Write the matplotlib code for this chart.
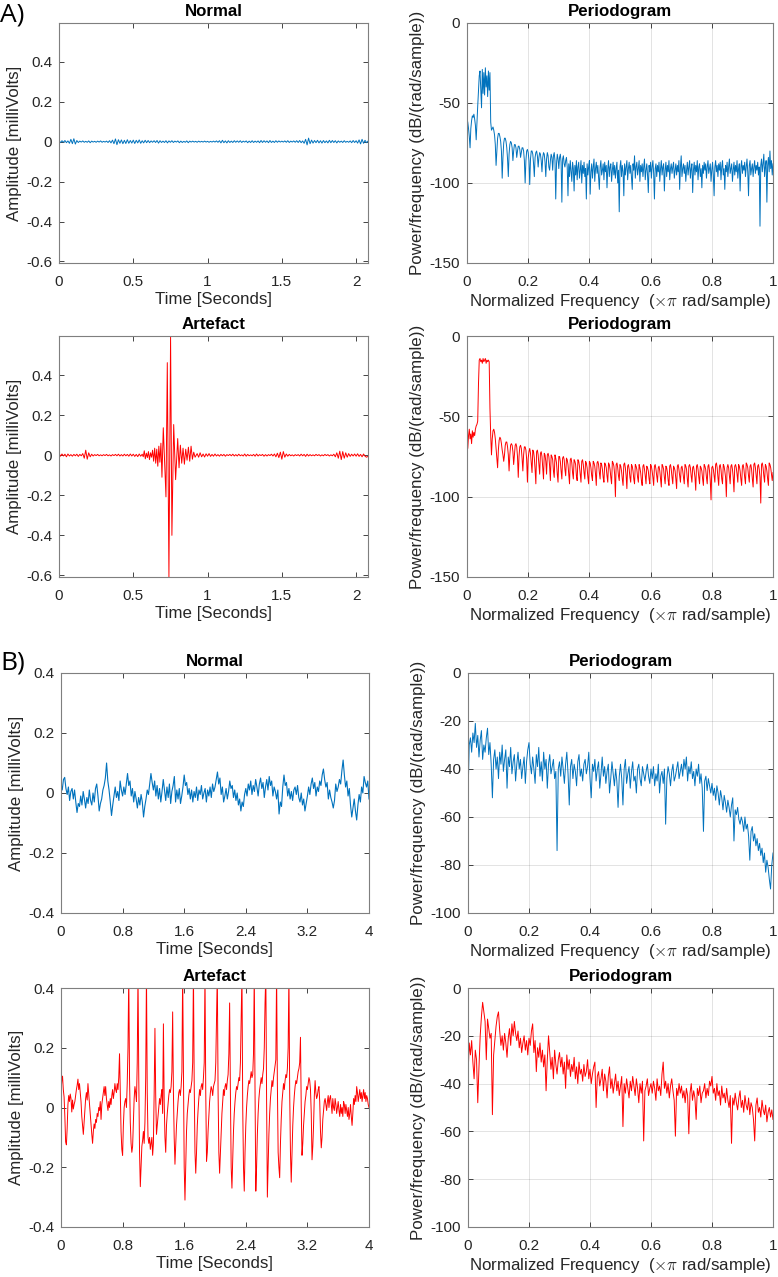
import numpy as np
import matplotlib
matplotlib.use('Agg')
import matplotlib.pyplot as plt
from matplotlib.ticker import FormatStrFormatter

plt.rcParams['font.family'] = ['Liberation Sans', 'DejaVu Sans']
plt.rcParams['mathtext.fontset'] = 'cm'

BLUE = '#0072BD'
RED = '#FF0000'
AX_COL = '#262626'

# ---------------- A) time signals, values in microvolts ----------------
A_DT = 0.01
a_norm_uv = [3, -4, 5, -3, 6, -5, 4, -8, 12, -10,
             15, -12, 6, -4, 3, -2, 4, -3, 2, -3,
             4, -5, 3, -2, 2, -3, 3, -2, 4, -3,
             2, -2, 3, -4, 5, -6, 8, -10, 14, -15,
             10, -8, 9, -10, 7, -9, 10, -8, 6, -7,
             8, -9, 7, -6, 9, -8, 5, -6, 7, -5,
             6, -5, 4, -3, 5, -4, 6, -7, 5, -4,
             3, -4, 5, -6, 4, -3, 5, -4, 3, -2,
             4, -5, 3, -4, 2, -3, 4, -5, 3, -2,
             3, -2, 2, -3, 3, -2, 2, -2, 3, -2,
             2, -3, 2, -2, 3, -2, 4, -3, 5, -6,
             7, -5, 4, -6, 5, -4, 3, -4, 5, -3,
             4, -3, 5, -4, 3, -2, 4, -5, 3, -4,
             5, -4, 3, -3, 4, -5, 6, -4, 5, -3,
             4, -5, 6, -4, 3, -4, 5, -3, 4, -2,
             3, -2, 4, -3, 5, -4, 3, -2, 4, -3,
             5, -4, 6, -5, 4, -8, 12, -16, 18, -10,
             8, -7, 6, -5, 7, -6, 5, -7, 6, -5,
             4, -6, 7, -5, 6, -4, 5, -6, 4, -3,
             3, -4, 5, -3, 2, -3, 4, -5, 6, -4,
             5, -7, 9, -11, 12, -8, 7, -5, 3]

# artefact: baseline before the burst (from 0 s), burst, baseline after (from 0.93 s)
a_art_pre_uv = [10, -5, 6, -4, 5, -8, 6, -4, 3, -5,
                4, -3, 5, -6, 4, -3, 8, -15, 25, -20,
                12, -8, 5, -4, 3, -2, 4, -3, 2, -3,
                3, -2, 4, -3, 2, -4, 3, -2, 4, -3,
                5, -4, 3, -4, 5, -3, 4, -5, 6, -4,
                5, -6, 4, -7, 6, -5]
a_art_burst_t = [0.560, 0.567, 0.574, 0.581, 0.588, 0.595, 0.602, 0.609, 0.616, 0.623,
                 0.630, 0.637, 0.644, 0.651, 0.658, 0.665, 0.672, 0.679, 0.686, 0.693,
                 0.702, 0.711, 0.720, 0.729, 0.740, 0.751, 0.760, 0.772, 0.785, 0.799,
                 0.808, 0.817, 0.826, 0.835, 0.844, 0.853, 0.862, 0.871, 0.880, 0.889,
                 0.898, 0.907, 0.916]
a_art_burst_uv = [5, -8, 22, -18, 10, -12, 18, -22, 12, -10,
                  25, -30, 35, -40, 30, -55, 45, -35, 60, -110,
                  137, -30, -208, 462, -608, 595, -400, 153, -122, 83,
                  -63, 50, -40, 35, -45, 30, -25, 40, -30, 45,
                  -20, 15, -10]
a_art_post_start = 0.93
a_art_post_uv = [8, -10, 12, -8, 6, -9, 7,
                 -5, 8, -6, 4, -5, 6, -4, 3, -5, 4,
                 -3, 4, -5, 3, -2, 4, -3, 5, -4, 3,
                 -4, 5, -3, 2, -4, 6, -5, 4, -3, 2,
                 -3, 4, -5, 6, -4, 3, -2, 4, -5, 3,
                 -4, 3, -2, 5, -4, 6, -8, 10, -12, 15,
                 -20, 18, -10, 6, -5, 4, -3, 2, -4, 3,
                 -2, 3, -4, 5, -3, 4, -6, 5, -4, 3,
                 -3, 2, -3, 4, -2, 3, -4, 2, -3, 4,
                 -2, 3, -4, 2, -3, 5, -8, 12, -15, 20,
                 -22, 18, -15, 12, -10, 8, -6, 5, -4, 6,
                 -5, 7, -6, 4, -8, 6, -5, -10, -6]

# ---------------- A) periodograms, dB/(rad/sample) ----------------
a_norm_psd = [-60, -62, -66, -71, -78, -66, -61, -58, -59, -57, -60, -64, -73, -62, -52, -42, -33,
              -30, -41, -53, -29, -44, -31, -45, -28, -40, -33, -46, -30, -42, -31,
              -62, -67, -66, -65, -67, -70, -76, -89, -80, -72, -69, -69, -71, -74, -80, -97, -84,
              -75, -72, -72, -74, -78, -85, -96, -82, -76, -74, -75, -78, -86, -80, -76, -76, -78,
              -84, -80, -77, -77, -79, -84, -81, -78, -78, -80, -86, -100, -86, -80, -79, -81, -86,
              -101, -85, -80, -80, -82, -88, -96, -84, -81, -80, -83, -90, -84, -81, -82, -86, -93, -84,
              -81, -82, -87, -96, -85, -81, -83, -90, -92, -86, -82, -84, -92, -83, -81, -86, -110,
              -88, -82, -85, -91, -84, -82, -87, -112, -85, -83, -88, -90, -86, -84, -90, -108,
              -88, -96, -86, -93, -99, -87, -91, -105, -89, -95, -86, -98, -90, -87, -97, -92, -86, -100, -89, -94,
              -87, -96, -91, -110, -88, -95, -90, -86, -107, -93, -88, -97, -90, -85, -99, -91, -87, -94, -89, -96,
              -104, -90, -86, -95, -92, -88, -98, -87, -93, -89, -103, -91, -86, -96, -90, -88, -99, -92, -87, -95,
              -89, -97, -91, -87, -100, -92, -118, -90, -86, -96, -89, -93, -108, -88, -95, -90, -86, -98, -91, -87,
              -94, -89, -96, -104, -88, -92, -83, -97, -90, -87, -95, -91, -86, -99, -89, -93, -88, -96, -90, -85,
              -98, -92, -88, -95, -106, -89, -93, -87, -97, -90, -86, -94, -110, -91, -88, -96, -89, -93, -87, -99,
              -91, -86, -95, -90, -88, -105, -92, -87, -96, -89, -93, -86, -98, -91, -88, -94, -90, -87, -97, -92,
              -88, -95, -89, -93, -86, -104, -90, -83, -96, -91, -88, -94, -89, -99, -92, -87, -95, -90, -86, -97,
              -91, -88, -106, -92, -87, -95, -89, -93, -86, -98, -90, -88, -96, -91, -103, -89, -94, -87, -92, -88,
              -97, -90, -86, -94, -91, -88, -99, -92, -87, -95, -108, -90, -86, -93, -89, -96, -88, -92, -87, -98,
              -90, -86, -95, -91, -104, -89, -93, -87, -96, -90, -85, -94, -91, -88, -99, -92, -87, -95, -89, -93,
              -86, -97, -91, -88, -105, -90, -86, -94, -89, -92, -87, -96, -90, -85, -93, -108, -89, -86, -95, -91,
              -88, -96, -90, -86, -94, -89, -92, -87, -95, -90, -127, -89, -85, -93, -88, -82, -96, -90, -86, -112,
              -89, -84, -93, -80, -91, -86, -95, -88]

a_art_psd = [-60, -70, -62, -58, -64, -61, -67, -59, -63, -60, -62, -58, -56, -55, -53, -30,
             -15, -14, -16, -15, -17, -14, -16, -15, -14, -17, -15, -16, -15,
             -16, -45, -62, -74, -64, -59, -58, -60, -64, -70, -76, -82, -71, -65, -63, -64, -67,
             -71, -74, -78, -74, -68, -66, -66, -69, -74, -84, -74, -68, -67, -68, -72, -80, -74,
             -68, -67, -69, -75, -88, -75, -69, -68, -70, -76, -84, -74, -69, -69, -71, -77, -91, -76,
             -72, -70, -73, -79, -85, -71, -72, -76, -83, -92, -72, -71, -74, -80, -86, -73, -72, -75, -82, -89,
             -73, -74, -78, -86, -74, -73, -75, -81, -90, -74, -75, -77, -84, -88, -74, -76, -79, -86, -91, -75,
             -75, -78, -84, -89, -76, -75, -77, -83, -87, -76, -77, -80, -86, -92, -77, -76, -79, -85, -89, -77,
             -78, -80, -87, -90, -77, -78, -81, -86, -91, -78, -77, -80, -85, -89, -78, -79, -82, -88, -92, -78,
             -79, -82, -87, -90, -78, -79, -81, -86, -93, -79, -78, -80, -85, -89, -79, -80, -83, -88, -91, -79,
             -80, -82, -87, -91, -79, -80, -83, -88, -92, -78, -79, -81, -86, -100, -80, -79, -82, -87, -90, -80,
             -81, -84, -89, -93, -80, -79, -82, -87, -95, -81, -80, -83, -88, -91, -80, -81, -84, -89, -92, -80,
             -81, -83, -88, -91, -80, -82, -85, -90, -93, -81, -80, -83, -87, -92, -81, -82, -84, -89, -92, -80,
             -81, -84, -88, -93, -81, -80, -83, -87, -91, -82, -81, -84, -89, -94, -80, -81, -83, -88, -92, -81,
             -82, -85, -90, -93, -81, -80, -83, -88, -92, -81, -82, -84, -89, -95, -81, -80, -83, -87, -91, -82,
             -81, -84, -88, -92, -80, -81, -83, -89, -94, -81, -80, -82, -87, -91, -82, -81, -84, -88, -96, -81,
             -80, -83, -88, -92, -81, -82, -84, -89, -93, -80, -81, -83, -88, -92, -81, -80, -84, -90, -102, -82,
             -81, -83, -87, -91, -80, -79, -82, -88, -93, -81, -80, -83, -89, -92, -80, -81, -84, -88, -100, -82,
             -80, -82, -87, -92, -81, -80, -83, -88, -97, -81, -80, -82, -86, -91, -80, -81, -84, -89, -93, -81,
             -80, -83, -88, -92, -79, -80, -82, -87, -91, -81, -80, -83, -89, -94, -80, -79, -82, -87, -92, -81,
             -80, -83, -88, -104, -80, -79, -82, -87, -91, -80, -81, -84, -89, -93, -79, -80, -82, -86, -90, -85]

# ---------------- B) time signals, microvolts ----------------
B_NORM_DT = 0.016
b_norm_uv = [30, 10, 45, 52, 15, -5, 20, -25, 5, 15, -20, 10, -30, -65, -35, -45, -10, -40, 5, -20, -50, -15, -35, 10, -25,
             -40, 0, -30, 15, 30, -10, -60, -35, -20, 10, 25, 50, 100, 40, 10, -30, -75, -40, -10, 20, -15, 5, -25, 40, 10,
             -10, 20, -5, 30, 65, 25, 40, -10, 15, -30, 5, -20, -50, -15, -40, -5, -30, -80, -45, -20, 10, -5, 30, 65, 35,
             10, 40, -10, 25, -20, 15, -30, 5, 45, 10, -25, 20, -15, 30, -35, 5, 25, 55, -30, 10, -20, 15, -35, -10, 20,
             60, 25, 35, -5, 15, -20, 10, -30, 5, -15, 20, -25, 10, -5, 25, -20, 0, 15, -30, 10, -10, 20, -15, 30, 5,
             20, 45, 70, 30, 50, -5, 20, -30, -10, 15, -20, 5, 40, 15, 25, -15, 10, -25, 0, -40, -20, -60, -30, -45, -5,
             15, -10, 30, 10, 40, -5, 25, 5, 45, 20, -10, 30, 50, 15, 35, -15, 20, 45, 10, 55, 25, 40, -10, 20, 5,
             -20, 10, -70, -30, -45, 20, 60, 25, 35, -10, 15, -20, 5, -25, 10, 20, -5, 25, -15, -30, 0, -40, -20, -60, -35,
             -10, 20, -5, 30, 50, 15, 35, -10, 20, 5, 40, 25, 60, 80, 45, 20, 35, -20, 10, -15, -30, -50, -25, 30, 5,
             20, 45, 30, 75, 110, 60, 20, 40, -10, 15, -40, -80, -50, -20, -60, -90, -40, -5, -30, 20, 0, 55, 35, 20, 40,
             -20]

B_ART_DT = 0.01
b_art_uv = [50, 90, 105, 60, 35, -30, -115, -125, -70, 10,
            40, 20, 45, 30, -15, 25, -5, 10, 20, 40,
            60, 75, 95, 60, 80, 50, 20, -30, -60, -90,
            -50, -10, 30, 50, 25, 80, 45, 15, -20, -60,
            -90, -120, -80, -55, -70, -40, -50, -20, -30, 0,
            -10, 20, -40, 10, 30, 50, 70, 40, 70, 30,
            10, -10, 20, 0, 30, 10, 40, 60, 30, 50,
            80, 60, 50, 80, 60, 100, 180, 50, -80, -140,
            -160, -60, 0, 20, 30, 0, 80, 200, 450, 100,
            -50, -120, -150, -130, -50, 30, 70, 50, 20, 150,
            450, 100, -150, -265, -200, -130, -110, -80, -120, -50,
            100, 450, 50, -100, -120, -100, -140, -120, -100, -160,
            -120, 50, 265, 40, -90, -60, -30, 0, 30, 10,
            40, 60, -20, 280, 20, -100, -150, -60, -20, 10,
            40, 60, 50, 70, 120, 320, 50, -100, -190, -120,
            -60, -20, 20, 50, 60, 40, 70, 120, 450, 100,
            -200, -310, -200, -80, -20, 10, 40, 60, 50, 70,
            90, 150, 450, 80, -150, -220, -150, -60, -10, 30,
            60, 40, 70, 80, 60, 100, 150, 450, 50, -180,
            -150, -80, -30, 20, 50, 70, 60, 40, 70, 80,
            90, 150, 300, 450, 50, -150, -220, -150, -70, -20,
            20, 60, 40, 70, 80, 60, 90, 110, 180, 350,
            50, -200, -270, -180, -80, -20, 20, 50, 70, 60,
            80, 100, 90, 150, 300, 450, 0, -200, -280, -150,
            -60, 0, 40, 70, 90, 80, 100, 120, 100, 110,
            180, 450, 50, -280, -200, -90, -20, 30, 60, 80,
            100, 80, 110, 130, 200, 350, 450, 30, -300, -200,
            -90, -20, 30, 60, 90, 70, 100, 120, 140, 160,
            450, 80, -150, -200, -235, -120, -40, 20, 50, 80,
            60, 90, 110, 100, 130, 200, 450, 50, -150, -250,
            -150, -60, 0, 40, 70, 90, 80, 100, 120, 130,
            150, 235, 0, -160, -120, -60, -20, 20, 40, 70,
            60, 80, 100, 90, 60, -20, -175, -130, -60, 40,
            90, 50, 30, 40, 60, 70, 20, -80, -135, -100,
            -40, -10, 20, 30, 10, -10, 20, 40, 0, 30,
            40, 10, -20, 30, 0, -10, 30, 10, -20, 0,
            20, -10, -30, 10, -20, 0, -30, 20, 10, -20,
            10, -10, -30, 0, -40, -20, 10, -30, -60, -20,
            30, 10, 40, 20, 70, 50, 20, 40, 60, 30,
            50, 20, 40, 60, 30, 50, 20, 40, 30, 10,
            0]

# ---------------- B) periodograms ----------------
b_norm_psd = [-52, -30, -27, -33, -25, -29, -21, -31, -26, -35, -28, -24, -36, -30, -33, -27, -23, -34, -29, -38, -52, -36, -32, -40, -35,
              -44, -33, -38, -30, -41, -36, -32, -48, -35, -39, -31, -42, -37, -34, -45, -38, -33, -40, -36, -44, -39, -35, -46, -37, -32,
              -29, -38, -42, -35, -40, -46, -34, -39, -31, -43, -37, -45, -33, -40, -36, -48, -38, -34, -42, -39, -36, -44, -41, -74, -40,
              -37, -43, -35, -40, -46, -38, -33, -42, -55, -39, -36, -44, -38, -41, -47, -37, -34, -43, -40, -45, -38, -36, -42, -39, -33,
              -44, -52, -38, -41, -36, -45, -40, -37, -48, -42, -35, -43, -39, -46, -41, -38, -50, -44, -37, -42, -47, -40, -45, -56, -43,
              -38, -44, -55, -40, -36, -46, -42, -39, -48, -41, -37, -45, -43, -50, -40, -38, -44, -47, -39, -42, -45, -41, -38, -43, -46,
              -40, -44, -39, -47, -42, -45, -38, -50, -43, -41, -46, -40, -63, -44, -39, -42, -47, -41, -38, -45, -43, -40, -37, -44, -41,
              -38, -43, -36, -40, -35, -45, -39, -42, -37, -44, -41, -47, -40, -43, -38, -46, -42, -48, -66, -45, -43, -49, -44, -47, -50,
              -46, -51, -48, -53, -47, -50, -55, -49, -52, -57, -51, -54, -58, -53, -56, -60, -55, -52, -70, -57, -59, -56, -61, -63, -60,
              -62, -66, -60, -65, -63, -68, -78, -66, -64, -70, -67, -72, -69, -74, -71, -76, -73, -79, -75, -83, -78, -81, -86, -90, -80,
              -75]

b_art_psd = [-37, -23, -28, -22, -31, -38, -26, -30, -48, -33, -20, -12, -6, -10, -14, -30, -13, -17, -21, -19, -53, -28, -22, -16, -12,
             -10, -18, -24, -20, -26, -19, -23, -29, -21, -17, -24, -15, -20, -14, -19, -22, -18, -25, -21, -27, -23, -20, -26, -22, -28,
             -21, -24, -18, -15, -27, -22, -35, -25, -29, -23, -31, -26, -33, -28, -43, -30, -20, -27, -34, -29, -38, -26, -32, -36, -30,
             -27, -33, -29, -36, -31, -42, -28, -34, -30, -37, -32, -35, -29, -38, -33, -40, -31, -36, -34, -39, -32, -37, -35, -30, -38,
             -34, -40, -36, -33, -31, -50, -37, -35, -41, -38, -34, -43, -36, -39, -46, -37, -33, -42, -38, -44, -40, -36, -43, -39, -45,
             -41, -37, -58, -40, -44, -38, -42, -46, -39, -43, -37, -41, -45, -38, -42, -48, -40, -44, -39, -64, -43, -41, -38, -45, -42,
             -40, -44, -39, -42, -47, -38, -43, -41, -45, -36, -31, -42, -39, -44, -40, -46, -41, -38, -43, -47, -62, -42, -45, -40, -44,
             -41, -46, -43, -48, -42, -45, -61, -44, -40, -47, -43, -46, -55, -42, -45, -41, -48, -44, -43, -40, -46, -42, -45, -39, -41,
             -37, -44, -42, -47, -40, -45, -43, -49, -41, -46, -44, -48, -42, -47, -50, -45, -65, -46, -49, -44, -48, -51, -46, -43, -50,
             -47, -52, -45, -49, -51, -46, -53, -48, -50, -55, -64, -49, -46, -52, -50, -54, -47, -51, -53, -49, -56, -52, -50, -54, -51,
             -55]

W, H = 778, 1277
fig = plt.figure(figsize=(W / 100, H / 100), dpi=100)


def px_axes(l, t, r, b):
    return fig.add_axes([l / W, 1 - b / H, (r - l) / W, (b - t) / H])


def style(ax, title, xlabel, ylabel, grid=False):
    ax.set_title(title, fontsize=12.2, fontweight='bold', pad=5)
    ax.set_xlabel(xlabel, fontsize=12.2, color=AX_COL, labelpad=2)
    ax.set_ylabel(ylabel, fontsize=12.2, color=AX_COL, labelpad=3)
    ax.tick_params(direction='in', top=True, right=True, length=3.5, width=0.6,
                   labelsize=11, colors=AX_COL)
    ax.tick_params(axis='x', pad=9)
    ax.tick_params(axis='y', pad=5)
    for s in ax.spines.values():
        s.set_color('#7f7f7f')
        s.set_linewidth(0.8)
    if grid:
        ax.grid(True, color=AX_COL, alpha=0.15, lw=0.6)
        ax.set_axisbelow(True)
    ax.xaxis.set_major_formatter(FormatStrFormatter('%g'))
    ax.yaxis.set_major_formatter(FormatStrFormatter('%g'))


TIME = 'Time [Seconds]'
AMP = 'Amplitude [milliVolts]'
FREQ = r'Normalized Frequency  ($\times\pi$ rad/sample)'
PSD = 'Power/frequency (dB/(rad/sample))'

# A) normal time
ax = px_axes(59, 23, 368, 263)
t = np.arange(len(a_norm_uv)) * A_DT
ax.plot(t, np.array(a_norm_uv) / 1000, color=BLUE, lw=0.7)
ax.set_xlim(0, 2.08)
ax.set_ylim(-0.608, 0.595)
ax.set_xticks([0, 0.5, 1, 1.5, 2])
ax.set_yticks([-0.6, -0.4, -0.2, 0, 0.2, 0.4])
style(ax, 'Normal', TIME, AMP)

# A) normal periodogram
ax = px_axes(467, 23, 773, 263)
ax.plot(np.linspace(0, 1, len(a_norm_psd)), a_norm_psd, color=BLUE, lw=0.7)
ax.set_xlim(0, 1)
ax.set_ylim(-150, 0)
ax.set_xticks(np.arange(0, 1.01, 0.2))
ax.set_yticks([-150, -100, -50, 0])
style(ax, 'Periodogram', FREQ, PSD, grid=True)

# A) artefact time
ax = px_axes(59, 336, 368, 577)
t_art = np.concatenate([np.arange(len(a_art_pre_uv)) * A_DT,
                        a_art_burst_t,
                        a_art_post_start + np.arange(len(a_art_post_uv)) * A_DT])
v_art = np.array(a_art_pre_uv + a_art_burst_uv + a_art_post_uv) / 1000
ax.plot(t_art, v_art, color=RED, lw=0.7)
ax.set_xlim(0, 2.08)
ax.set_ylim(-0.608, 0.595)
ax.set_xticks([0, 0.5, 1, 1.5, 2])
ax.set_yticks([-0.6, -0.4, -0.2, 0, 0.2, 0.4])
style(ax, 'Artefact', TIME, AMP)

# A) artefact periodogram
ax = px_axes(467, 336, 773, 577)
ax.plot(np.linspace(0, 1, len(a_art_psd)), a_art_psd, color=RED, lw=0.7)
ax.set_xlim(0, 1)
ax.set_ylim(-150, 0)
ax.set_xticks(np.arange(0, 1.01, 0.2))
ax.set_yticks([-150, -100, -50, 0])
style(ax, 'Periodogram', FREQ, PSD, grid=True)

# B) normal time
ax = px_axes(61, 673, 369, 913)
ax.plot(np.arange(len(b_norm_uv)) * B_NORM_DT, np.array(b_norm_uv) / 1000, color=BLUE, lw=0.8)
ax.set_xlim(0, 4)
ax.set_ylim(-0.4, 0.4)
ax.set_xticks([0, 0.8, 1.6, 2.4, 3.2, 4])
ax.set_yticks([-0.4, -0.2, 0, 0.2, 0.4])
style(ax, 'Normal', TIME, AMP)

# B) normal periodogram
ax = px_axes(468, 673, 773, 913)
ax.plot(np.linspace(0, 1, len(b_norm_psd)), b_norm_psd, color=BLUE, lw=0.7)
ax.set_xlim(0, 1)
ax.set_ylim(-100, 0)
ax.set_xticks(np.arange(0, 1.01, 0.2))
ax.set_yticks(np.arange(-100, 1, 20))
style(ax, 'Periodogram', FREQ, PSD, grid=True)

# B) artefact time
ax = px_axes(61, 988, 369, 1227)
ax.plot(np.arange(len(b_art_uv)) * B_ART_DT, np.array(b_art_uv) / 1000, color=RED, lw=0.7)
ax.set_xlim(0, 4)
ax.set_ylim(-0.4, 0.4)
ax.set_xticks([0, 0.8, 1.6, 2.4, 3.2, 4])
ax.set_yticks([-0.4, -0.2, 0, 0.2, 0.4])
style(ax, 'Artefact', TIME, AMP)

# B) artefact periodogram
ax = px_axes(468, 988, 773, 1227)
ax.plot(np.linspace(0, 1, len(b_art_psd)), b_art_psd, color=RED, lw=0.7)
ax.set_xlim(0, 1)
ax.set_ylim(-100, 0)
ax.set_xticks(np.arange(0, 1.01, 0.2))
ax.set_yticks(np.arange(-100, 1, 20))
style(ax, 'Periodogram', FREQ, PSD, grid=True)

fig.text(0.0, 1 - 2 / H, 'A)', fontsize=19, family=['Open Sans', 'DejaVu Sans'], va='top', ha='left')
fig.text(0.0, 1 - 650 / H, 'B)', fontsize=19, family=['Open Sans', 'DejaVu Sans'], va='top', ha='left')

fig.savefig('out.png', dpi=100)
